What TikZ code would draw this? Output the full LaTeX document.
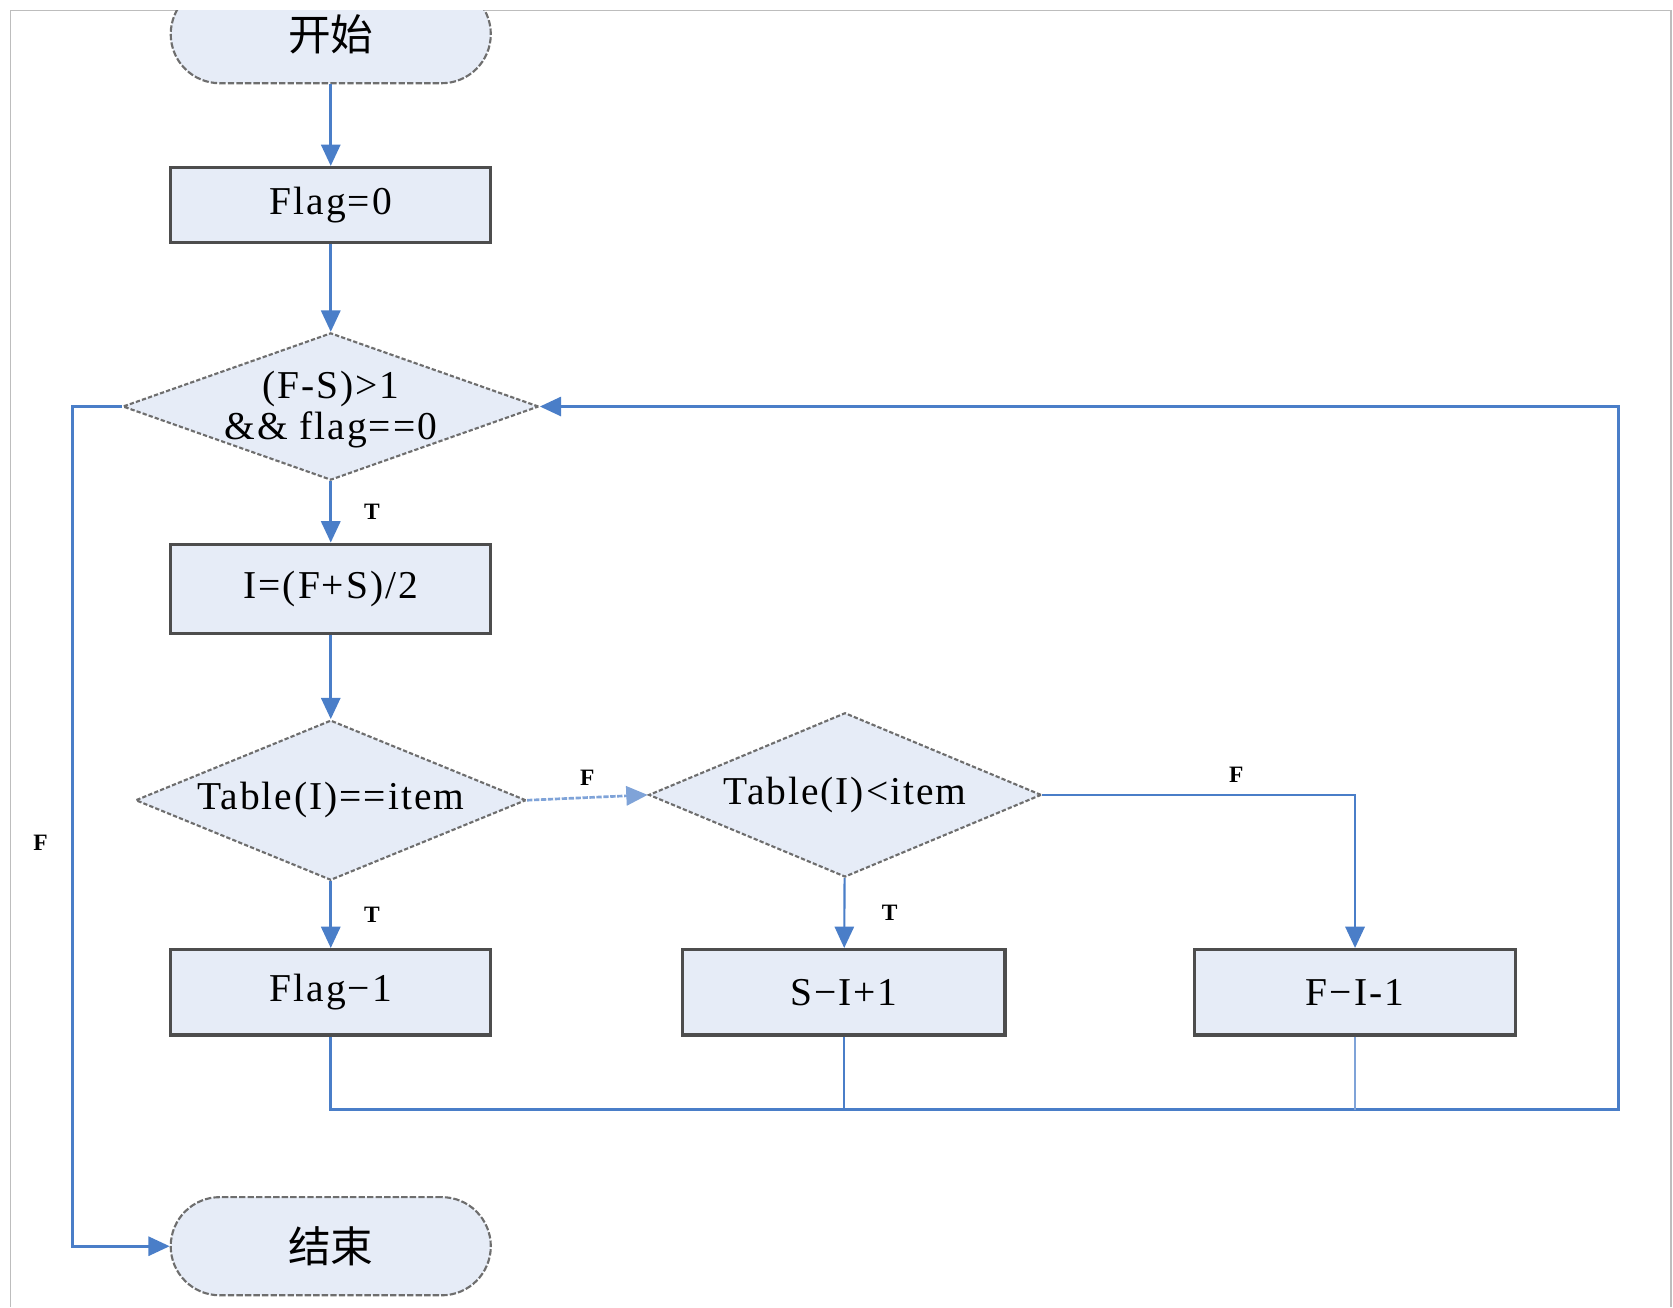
\documentclass[tikz,border=0pt]{standalone}
\usepackage{fontspec}
\setmainfont[LetterSpace=5]{Liberation Serif}
\newfontfamily\cjk{Noto Sans CJK SC}
\usetikzlibrary{arrows.meta,shapes.geometric}
\definecolor{lineblue}{HTML}{4A7EC8}
\definecolor{lightblue}{HTML}{7FA3D8}
\definecolor{boxfill}{HTML}{E6ECF7}
\definecolor{boxedge}{HTML}{4D4D4D}
\definecolor{dashedge}{HTML}{6E6E6E}
\definecolor{framegray}{HTML}{BDBDBD}
\begin{document}
\begin{tikzpicture}[x=1pt,y=-1pt,
  conn/.style={draw=lineblue, line width=2.5pt},
  arr/.style={conn, -{Triangle[length=20pt,width=18pt]}},
  procbox/.style={rectangle, draw=boxedge, line width=3pt, fill=boxfill,
    minimum width=300pt, minimum height=72pt, inner sep=0pt,
    font=\fontsize{37}{42}\selectfont},
  termbox/.style={rectangle, rounded corners=46pt, draw=dashedge, line width=2pt,
    dash pattern=on 6pt off 2pt, fill=boxfill, minimum width=300pt,
    minimum height=92pt, inner sep=0pt, font=\fontsize{40}{44}\selectfont\cjk},
  decision/.style={diamond, draw=dashedge, line width=2pt, dash pattern=on 4pt off 2pt,
    fill=boxfill, inner sep=0pt},
  dtext/.style={font=\fontsize{37}{38}\selectfont, align=center, inner sep=0pt},
  lab/.style={font=\bfseries\fontsize{22}{24}\selectfont, inner sep=0pt, text=black}
]
\useasboundingbox (0,0) rectangle (1568,1225);
\draw[framegray, line width=1.5pt] (10,1225) -- (10,10) -- (1566,10) -- (1566,1225);

\begin{scope}
  \clip (10,10) rectangle (1566,1225);
  \node[termbox] (start) at (310,32) {开始};
\end{scope}

\node[procbox, minimum height=70pt] (flag0) at (310,192) {Flag=0};

\node[decision, minimum width=390pt, minimum height=138pt] (d1) at (310,381) {};
\node[dtext] (d1t) at (310,384) {(F-S)>1\\\&\& flag==0};

\node[procbox, minimum height=84pt] (boxI) at (310,552) {I=(F+S)/2};

\node[decision, minimum width=366pt, minimum height=150pt] (d2) at (310,750) {};
\node[dtext] (d2t) at (310,750) {Table(I)==item};

\node[decision, minimum width=368pt, minimum height=154pt] (d3) at (792,745) {};
\node[dtext] (d3t) at (792,745) {Table(I)<item};

\node[procbox, minimum height=80pt] (flag1) at (310,930) {Flag−1};
\node[procbox, minimum height=80pt, minimum width=302pt] (sbox) at (791,930) {S−I+1};
\node[procbox, minimum height=80pt, minimum width=301pt] (fbox) at (1270,930) {F−I-1};

\node[termbox] (end) at (310,1168) {结束};

\coordinate (rb) at (1517,1040);
\coordinate (rt) at (1517,381);
\coordinate (lx) at (68,381);

\draw[arr] (start) -- (flag0);
\draw[arr] (flag0) -- (d1);
\draw[arr] (d1) -- node[lab, right=30pt]{T} (boxI);
\draw[arr] (boxI) -- (d2);
\draw[arr] (d2) -- node[lab, right=30pt]{T} (flag1);
\draw[arr, draw=lightblue, dash pattern=on 5pt off 1.5pt] (d2.east) -- node[lab, above=10pt]{F} (d3.west);
\draw[arr, line width=2pt] (d3) -- node[lab, right=34pt]{T} (sbox);
\draw[arr] (d3.east) -| node[lab, pos=0.31, above=10pt]{F} (fbox.north);
\draw[arr] (flag1.south) |- (rb) -- (rt) -- (d1.east);
\draw[conn] (sbox.south) -- (sbox.south |- rb);
\draw[conn, draw=lightblue] (fbox.south) -- (fbox.south |- rb);
\draw[arr] (d1.west) -- (lx) |- node[lab, pos=0.26, left=22pt]{F} (end.west);
\end{tikzpicture}
\end{document}
